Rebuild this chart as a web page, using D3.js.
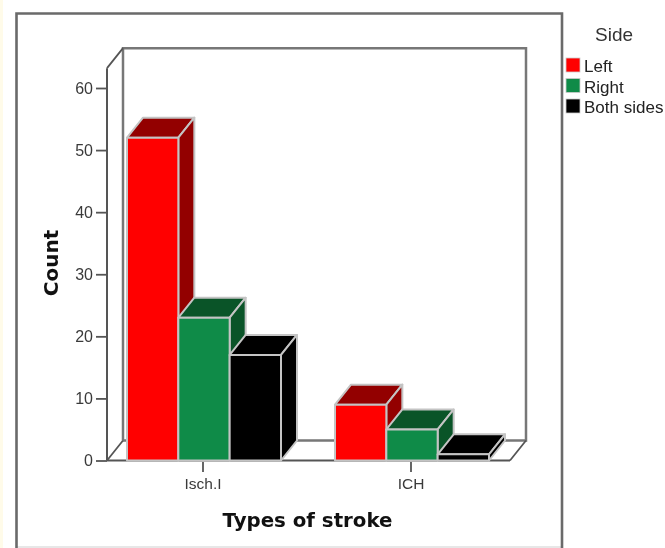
<!DOCTYPE html>
<html><head><meta charset="utf-8">
<script src="https://cdn.jsdelivr.net/npm/d3@7/dist/d3.min.js"></script>
<style>html,body{margin:0;padding:0;background:#fff;overflow:hidden}svg{display:block;filter:blur(0.45px)}text{font-family:"Liberation Sans",Arial,sans-serif}</style>
</head><body><svg id="c" width="665" height="548"></svg>
<script>
const categories = ["Isch.I", "ICH"];
const seriesNames = ["Left", "Right", "Both sides"];
const leftValues = [52, 9];
const rightValues = [23, 5];
const bothValues = [17, 1];
const yTicks = [0, 10, 20, 30, 40, 50, 60];
const frontColors = ["#ff0000", "#0f8b48", "#000000"];
const topColors = ["#930000", "#0a5428", "#000000"];
const sideColors = ["#930000", "#0a5428", "#000000"];
const seriesValues = [leftValues, rightValues, bothValues];

const svg = d3.select("#c");
const dx = 16, dy = -20, wallCol = "#777777", edge = "#c4c4c4";
const y = d3.scaleLinear().domain([0, 60]).range([460.5, 88]);
const x0 = d3.scaleBand().domain(categories).range([99.5, 515.5]);
const x1 = d3.scaleBand().domain(seriesNames).range([27.5, 181.5]);
const yTop = y(63.2), yBase = y(0), xL = 107, xR = 510;

svg.append("rect").attr("x",0).attr("y",0).attr("width",3).attr("height",548).attr("fill","#fffbe9");
svg.append("line").attr("x1",16).attr("x2",562).attr("y1",547).attr("y2",547).attr("stroke","#cfcfcf").attr("stroke-width",1.2);
svg.append("path").attr("d","M16.5,548V13.5H562V548").attr("fill","none").attr("stroke","#6a6a6a").attr("stroke-width",2.6);

// walls
const wall = (d,c,w)=>svg.append("path").attr("d",d).attr("fill","none").attr("stroke",c).attr("stroke-width",w);
wall(`M${xL+dx},${yBase+dy}V${yTop+dy}H${xR+dx}V${yBase+dy}H${xL+dx}`, wallCol, 2.5);
wall(`M${xL},${yBase}L${xL+dx},${yBase+dy}M${xL},${yTop}L${xL+dx},${yTop+dy}M${xR},${yBase}L${xR+dx},${yBase+dy}`, "#555", 1.8);
wall(`M${xL},${yBase}H${xR}`, "#555", 2);

// y axis
const yAxis = d3.axisLeft(y).tickValues(yTicks).tickSize(11).tickPadding(3).tickFormat(d3.format("d"));
const ga = svg.append("g").attr("transform",`translate(${xL},0)`).call(yAxis);
ga.select(".domain").remove();
ga.selectAll(".tick line").attr("stroke","#555").attr("stroke-width",1.8);
ga.selectAll(".tick text").attr("fill","#3a3a3a").style("font-size","16px");
svg.append("line").attr("x1",xL).attr("x2",xL).attr("y1",yTop).attr("y2",yBase).attr("stroke","#555").attr("stroke-width",2);

// bars, back to front and left to right
categories.forEach((cat,ci)=>{
  seriesNames.forEach((s,si)=>{
    const v = seriesValues[si][ci];
    const a = x0(cat)+x1(s), w = x1.bandwidth(), t = y(v), b = y(0);
    const g = svg.append("g").attr("stroke",edge).attr("stroke-width",2).attr("stroke-linejoin","round");
    g.append("path").attr("fill",topColors[si])
      .attr("d",`M${a},${t}L${a+dx},${t+dy}H${a+w+dx}L${a+w},${t}Z`);
    g.append("path").attr("fill",sideColors[si])
      .attr("d",`M${a+w},${t}L${a+w+dx},${t+dy}V${b+dy}L${a+w},${b}Z`);
    g.append("rect").attr("x",a).attr("y",t).attr("width",w).attr("height",b-t).attr("fill",frontColors[si]);
  });
});

// x axis
const xTicks = svg.append("g").selectAll("g").data(categories).join("g")
  .attr("transform",d=>`translate(${x0(d)+x0.bandwidth()/2-0.5},0)`);
xTicks.append("line").attr("y1",462).attr("y2",472).attr("stroke","#555").attr("stroke-width",1.8);
xTicks.append("text").attr("y",489).attr("text-anchor","middle").attr("fill","#3a3a3a").style("font-size","15.5px").text(d=>d);

svg.append("text").attr("x",307.5).attr("y",526.5).attr("text-anchor","middle")
  .style("font-family","'DejaVu Sans'").style("font-weight","bold").style("font-size","19.8px").attr("fill","#111").text("Types of stroke");
svg.append("text").attr("transform","translate(58,263) rotate(-90)").attr("text-anchor","middle")
  .style("font-family","'DejaVu Sans'").style("font-weight","bold").style("font-size","20px").attr("fill","#111").text("Count");

// legend
svg.append("text").attr("x",614).attr("y",40.5).attr("text-anchor","middle").attr("fill","#333").style("font-size","19px").text("Side");
const leg = svg.append("g").selectAll("g").data(seriesNames).join("g")
  .attr("transform",(d,i)=>`translate(566,${58+i*20.5})`);
leg.append("rect").attr("width",14).attr("height",14).attr("fill",(d,i)=>frontColors[i]).attr("stroke","#ccc").attr("stroke-width",0.8);
leg.append("text").attr("x",18).attr("y",14).attr("fill","#222").style("font-size","17px").text(d=>d);
</script></body></html>
